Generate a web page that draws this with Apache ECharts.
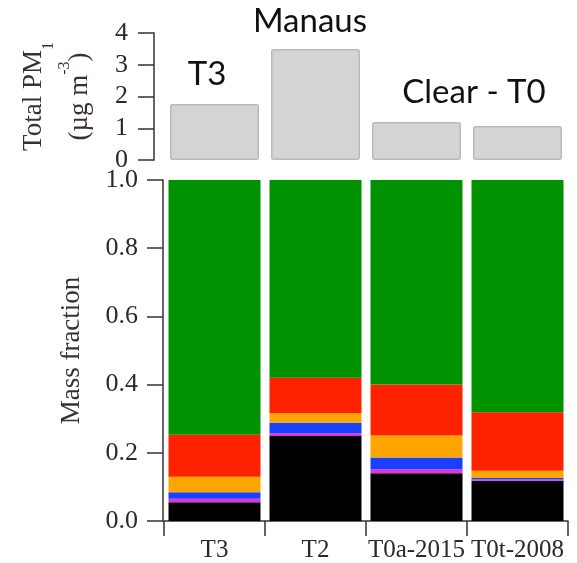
<!DOCTYPE html>
<html>
<head>
<meta charset="utf-8">
<script src="https://cdn.jsdelivr.net/npm/echarts@6/dist/echarts.min.js"></script>
<style>
  html, body { margin: 0; padding: 0; background: #fff; }
  #chart { width: 577px; height: 563px; }
</style>
</head>
<body>
<div id="chart"></div>
<script>
// Sampling periods
const categories = ['T3', 'T2', 'T0a-2015', 'T0t-2008'];

// Total PM1 mass concentration (µg m-3)
const totalPM1 = [1.76, 3.50, 1.20, 1.07];

// Mass fractions of each component, stacked bottom to top
const fracBC  = [0.055, 0.249, 0.140, 0.118];
const fracChl = [0.010, 0.008, 0.012, 0.004];
const fracNO3 = [0.019, 0.031, 0.034, 0.004];
const fracNH4 = [0.046, 0.028, 0.065, 0.021];
const fracSO4 = [0.123, 0.104, 0.149, 0.172];
const fracOrg = [0.747, 0.580, 0.600, 0.681];

const pmTicks = [0, 1, 2, 3, 4];
const fracTicks = [0, 0.2, 0.4, 0.6, 0.8, 1.0];

const serif = '"Liberation Serif", "Times New Roman", serif';
const sans = 'Lato, "Open Sans", sans-serif';
const axisColor = '#333';
const labelColor = '#2a2a2a';

const components = [
  { name: 'BC',  data: fracBC,  color: '#000000' },
  { name: 'Chl', data: fracChl, color: '#e033e0' },
  { name: 'NO3', data: fracNO3, color: '#1a40ff' },
  { name: 'NH4', data: fracNH4, color: '#ffa500' },
  { name: 'SO4', data: fracSO4, color: '#ff2200' },
  { name: 'Org', data: fracOrg, color: '#009200' }
];

const chart = echarts.init(document.getElementById('chart'), null, { renderer: 'canvas' });

const option = {
  animation: false,
  backgroundColor: '#fff',
  grid: [
    { left: 164, width: 404, top: 33, height: 127 },
    { left: 164, width: 404, top: 180, height: 344 }
  ],
  xAxis: [
    { type: 'category', gridIndex: 0, data: categories, show: false },
    {
      type: 'category', gridIndex: 1, data: categories, offset: 4,
      axisLine: { show: true, lineStyle: { color: axisColor, width: 1.5 } },
      axisTick: { show: true, length: 15, interval: 0, lineStyle: { color: axisColor, width: 1.5 } },
      axisLabel: { interval: 0, margin: 13, color: labelColor, fontFamily: serif, fontSize: 25 }
    }
  ],
  yAxis: [
    {
      type: 'value', gridIndex: 0, min: pmTicks[0], max: pmTicks[pmTicks.length - 1], interval: 1,
      offset: 10,
      name: '{a|Total PM}{s|1}\n{a|(µg m}{p|-3}{a|)}',
      nameLocation: 'middle', nameRotate: 90, nameGap: 51,
      nameTextStyle: {
        color: '#3a3030', fontFamily: serif, align: 'center',
        rich: {
          a: { fontFamily: serif, fontSize: 27, color: '#3a3030', lineHeight: 46 },
          s: { fontFamily: serif, fontSize: 16, color: '#3a3030', verticalAlign: 'bottom', lineHeight: 34 },
          p: { fontFamily: serif, fontSize: 16, color: '#3a3030', verticalAlign: 'top', lineHeight: 46 }
        }
      },
      axisLine: { show: true, lineStyle: { color: axisColor, width: 1.5 } },
      axisTick: { show: true, length: 16, lineStyle: { color: axisColor, width: 1.5 } },
      axisLabel: { margin: 26, color: labelColor, fontFamily: serif, fontSize: 26 },
      splitLine: { show: false }
    },
    {
      type: 'value', gridIndex: 1, min: fracTicks[0], max: fracTicks[fracTicks.length - 1], interval: 0.2,
      offset: 1,
      name: 'Mass fraction', nameLocation: 'middle', nameRotate: 90, nameGap: 78,
      nameTextStyle: { color: '#333', fontFamily: serif, fontSize: 27 },
      axisLine: { show: true, lineStyle: { color: axisColor, width: 1.5 } },
      axisTick: { show: true, length: 16, lineStyle: { color: axisColor, width: 1.5 } },
      axisLabel: { margin: 25, color: labelColor, fontFamily: serif, fontSize: 26,
                   formatter: v => v.toFixed(1) },
      splitLine: { show: false }
    }
  ],
  series: [
    {
      type: 'bar', name: 'Total PM1', xAxisIndex: 0, yAxisIndex: 0, data: totalPM1,
      barWidth: 89,
      itemStyle: { color: '#d4d4d4', borderColor: '#b9b9b9', borderWidth: 1.5, borderRadius: 2 }
    }
  ].concat(components.map(c => ({
    type: 'bar', name: c.name, xAxisIndex: 1, yAxisIndex: 1, stack: 'frac',
    data: c.data, barWidth: 92,
    itemStyle: { color: c.color }
  }))),
  graphic: [
    { type: 'text', x: 310, y: 21,
      style: { text: 'Manaus', font: '33px ' + sans, fill: '#111', textAlign: 'center', textVerticalAlign: 'middle' } },
    { type: 'text', x: 207, y: 74,
      style: { text: 'T3', font: '33px ' + sans, fill: '#111', textAlign: 'center', textVerticalAlign: 'middle' } },
    { type: 'text', x: 474, y: 92,
      style: { text: 'Clear - T0', font: '33px ' + sans, fill: '#111', textAlign: 'center', textVerticalAlign: 'middle' } }
  ]
};

chart.setOption(option);
</script>
</body>
</html>
